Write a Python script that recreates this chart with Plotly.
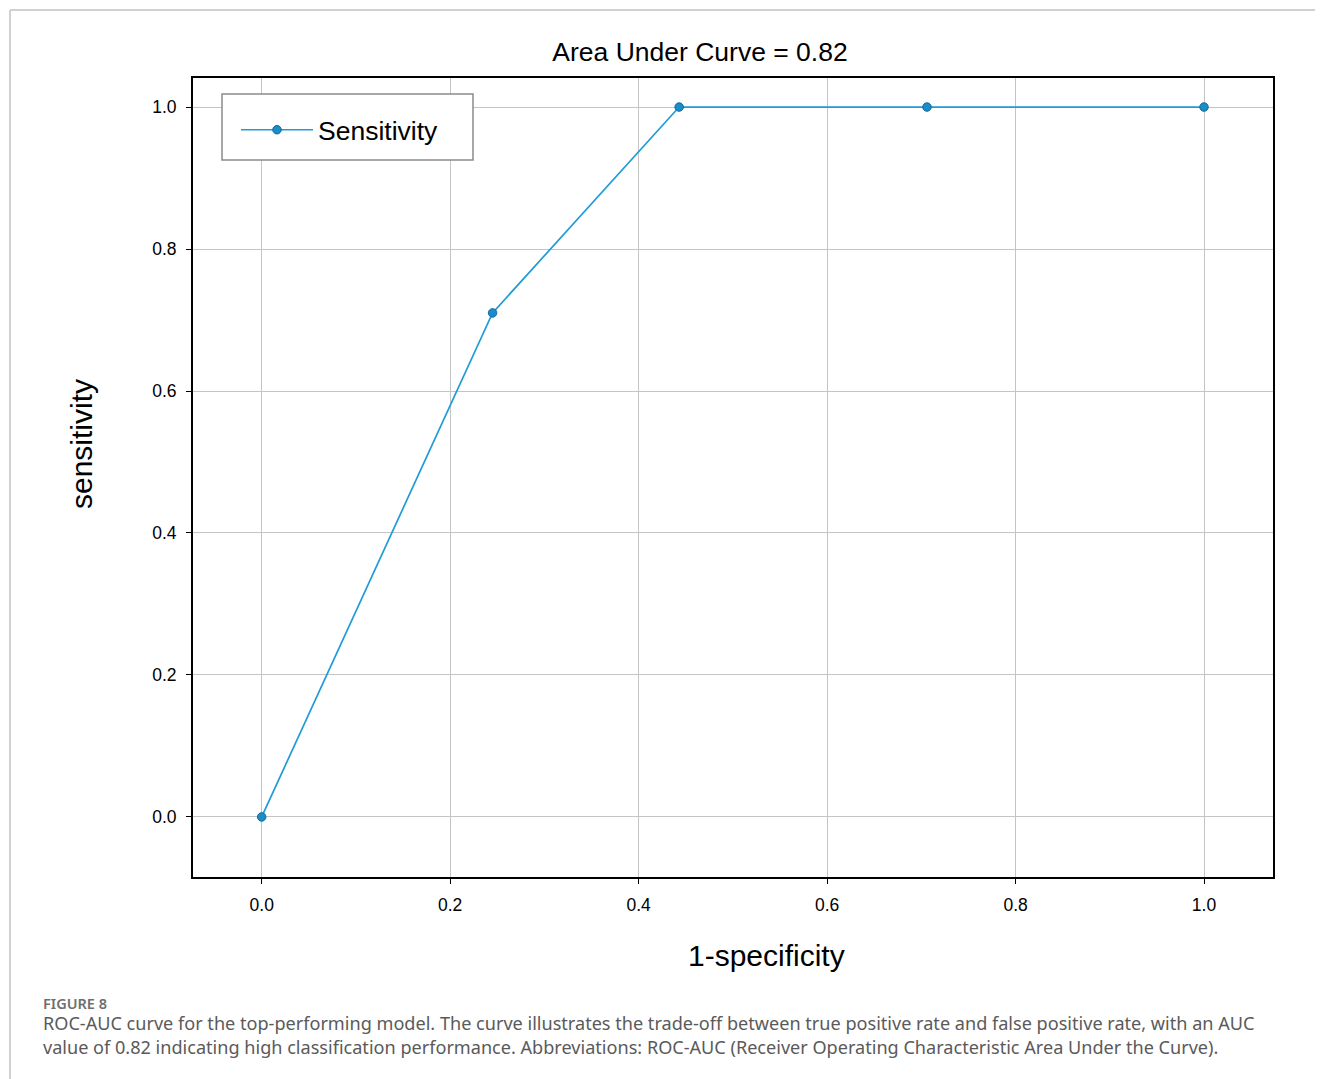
import plotly.graph_objects as go

fpr = [0.0, 0.245, 0.443, 0.706, 1.0]
tpr = [0.0, 0.71, 1.0, 1.0, 1.0]
tick_vals = [0.0, 0.2, 0.4, 0.6, 0.8, 1.0]
tick_text = ["0.0", "0.2", "0.4", "0.6", "0.8", "1.0"]
title_text = "Area Under Curve = 0.82"
x_title = "1-specificity"
y_title = "sensitivity"
series_name = "Sensitivity"
caption_head = "FIGURE 8"
caption_lines = [
    "ROC-AUC curve for the top-performing model. The curve illustrates the trade-off between true positive rate and false positive rate, with an AUC",
    "value of 0.82 indicating high classification performance. Abbreviations: ROC-AUC (Receiver Operating Characteristic Area Under the Curve).",
]

OFF = 8  # page body margin
W, H = 1323 - OFF, 1079 - OFF
# plot area in reference pixel coordinates
PL, PR, PT, PB = 193, 1273, 78, 877
L, T = PL - OFF, PT - OFF
R, B = W - (PR - OFF), H - (PB - OFF)
pw, ph = PR - PL, PB - PT

def px(x):
    return (x - PL) / pw

def py(y):
    return (PB - y) / ph

FONT = "Liberation Sans, Arial"

fig = go.Figure()
fig.add_trace(go.Scatter(
    x=fpr, y=tpr, mode="lines+markers", name=series_name,
    line=dict(color="#1f9bd8", width=1.7),
    marker=dict(size=8.5, color="#1a8cc8", line=dict(color="#0f6a9c", width=1)),
))

axis_common = dict(
    showgrid=True, gridcolor="#c4c4c4", gridwidth=1,
    zeroline=False, showline=True, linecolor="black", linewidth=2, mirror=True,
    ticks="outside", ticklen=5, tickwidth=1, tickcolor="black",
    tickfont=dict(family=FONT, size=17.5, color="black"),
    tickvals=tick_vals, ticktext=tick_text,
)

fig.update_layout(
    width=W, height=H,
    margin=dict(l=L, r=R, t=T, b=B),
    paper_bgcolor="white", plot_bgcolor="white",
    title=dict(text=title_text, x=(700 - OFF) / W, xanchor="center", y=1 - (52 - OFF) / H, yanchor="middle",
               font=dict(family=FONT, size=26.5, color="black")),
    xaxis=dict(axis_common, range=[-0.0729, 1.0732], ticklabelstandoff=6),
    yaxis=dict(axis_common, range=[-0.0846, 1.0409], ticklabelstandoff=6),
    showlegend=True,
    legend=dict(x=px(236), y=py(130), xanchor="left", yanchor="middle",
                bgcolor="rgba(0,0,0,0)", borderwidth=0,
                font=dict(family=FONT, size=26.5, color="black"),
                itemwidth=72, tracegroupgap=0),
    font=dict(family=FONT),
)

# legend frame
fig.add_shape(type="rect", xref="paper", yref="paper", x0=px(222), x1=px(473), y0=py(160), y1=py(94),
              line=dict(color="#8a8a8a", width=1.5), fillcolor="white", layer="above")

# outer figure frame (top and left light gray lines)
fig.add_shape(type="line", xref="paper", yref="paper", x0=px(10), x1=px(1323), y0=py(10), y1=py(10),
              line=dict(color="#d0d0d0", width=2))
fig.add_shape(type="line", xref="paper", yref="paper", x0=px(10), x1=px(10), y0=py(10), y1=py(1079),
              line=dict(color="#d0d0d0", width=2))

# axis titles
fig.add_annotation(text=x_title, xref="paper", yref="paper", x=px(766), y=py(955),
                   xanchor="center", yanchor="middle", showarrow=False,
                   font=dict(family=FONT, size=30, color="black"))
fig.add_annotation(text=y_title, xref="paper", yref="paper", x=px(82), y=py(444),
                   xanchor="center", yanchor="middle", showarrow=False, textangle=-90,
                   font=dict(family=FONT, size=30, color="black"))

fig.add_annotation(text=caption_head, xref="paper", yref="paper", x=px(41), y=py(1003),
                   xanchor="left", yanchor="middle", showarrow=False,
                   font=dict(family="Noto Sans", size=14.5, color="#6e6e6e", weight=600))
for i, line in enumerate(caption_lines):
    fig.add_annotation(text=line, xref="paper", yref="paper", x=px(41), y=py(1023 + 24 * i),
                       xanchor="left", yanchor="middle", showarrow=False,
                       font=dict(family="Noto Sans", size=18.1, color="#5a5a5a"))

fig.write_html("out.html")
